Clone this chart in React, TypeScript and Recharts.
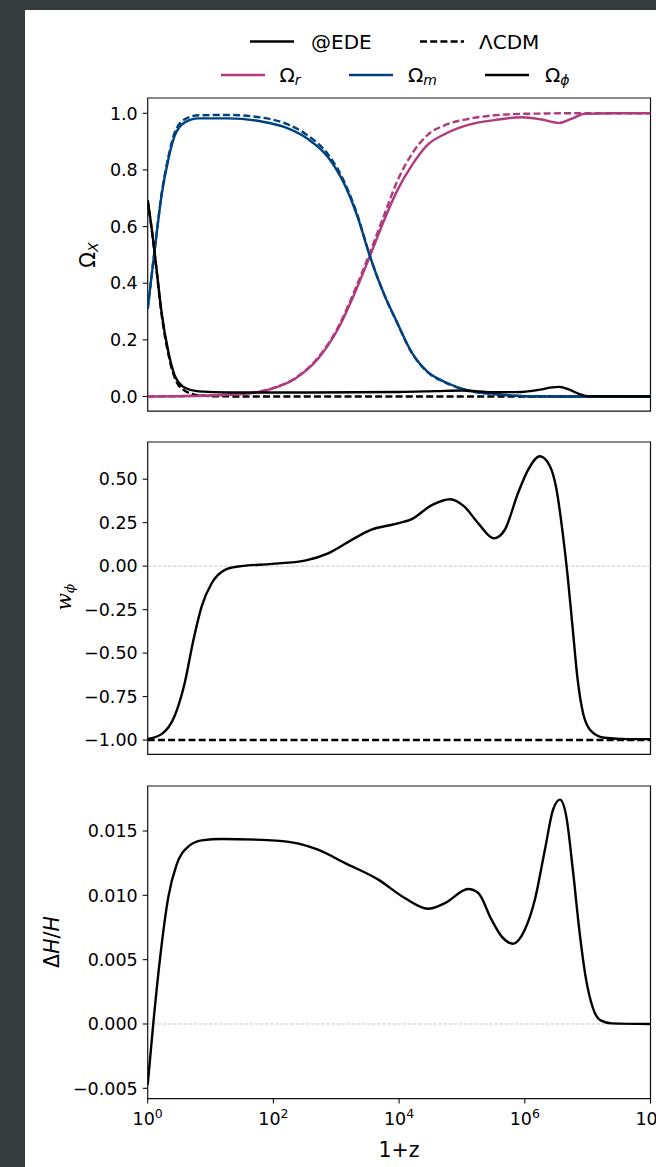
import React from 'react';
import { LineChart, Line, XAxis, YAxis, ReferenceArea, ReferenceLine } from 'recharts';

const FONT = '"DejaVu Sans", sans-serif';
const PINK = '#b03a7e';
const BLUE = '#00427f';
const DASH = '7 3.2';

// x values are log10(1+z)

// top panel: density fractions
const omegaMX = [0, 0.12, 0.22, 0.33, 0.43, 0.59, 0.81, 1.28, 1.81, 2.18, 2.55, 2.87, 3.14, 3.35, 3.53, 3.77, 3.95, 4.2, 4.46, 4.73, 5.1, 5.52, 6.05, 6.6, 8];
const omegaMEde = [0.309, 0.533, 0.709, 0.839, 0.921, 0.968, 0.982, 0.982, 0.971, 0.951, 0.909, 0.845, 0.745, 0.627, 0.498, 0.356, 0.27, 0.156, 0.086, 0.051, 0.021, 0.009, 0.001, 0, 0];
const omegaMLcdm = [0.309, 0.536, 0.714, 0.847, 0.932, 0.979, 0.993, 0.994, 0.985, 0.965, 0.921, 0.855, 0.752, 0.632, 0.5, 0.356, 0.269, 0.155, 0.085, 0.05, 0.02, 0.008, 0.001, 0, 0];

const omegaRX = [0, 0.5, 1.02, 1.55, 1.97, 2.34, 2.71, 3.03, 3.3, 3.56, 3.77, 3.97, 4.2, 4.46, 4.73, 5.1, 5.52, 5.95, 6.27, 6.55, 6.74, 6.95, 7.38, 8];
const omegaREde = [0, 0.001, 0.0035, 0.009, 0.027, 0.062, 0.133, 0.239, 0.368, 0.509, 0.627, 0.727, 0.815, 0.89, 0.927, 0.959, 0.976, 0.986, 0.978, 0.966, 0.98, 0.998, 1.0, 1.0];
const omegaRLcdm = [0, 0.001, 0.004, 0.01, 0.028, 0.064, 0.137, 0.245, 0.378, 0.522, 0.645, 0.76, 0.855, 0.925, 0.958, 0.98, 0.993, 0.998, 0.999, 1.0, 1.0, 1.0, 1.0, 1.0];

const omegaPhiX = [0, 0.064, 0.14, 0.22, 0.33, 0.43, 0.59, 0.81, 1.28, 2.61, 4.0, 4.6, 5.0, 5.52, 5.95, 6.27, 6.4, 6.55, 6.7, 6.85, 7.0, 8];
const omegaPhiEde = [0.692, 0.592, 0.451, 0.298, 0.156, 0.074, 0.031, 0.018, 0.014, 0.014, 0.016, 0.019, 0.021, 0.015, 0.016, 0.025, 0.031, 0.034, 0.025, 0.01, 0.001, 0];

const omegaLambdaX = [0, 0.064, 0.14, 0.22, 0.33, 0.43, 0.59, 0.81, 1.02, 1.5, 8];
const omegaLambdaLcdm = [0.692, 0.59, 0.447, 0.292, 0.148, 0.066, 0.02, 0.004, 0.001, 0, 0];

// middle panel: equation of state
const wPhiX = [0, 0.22, 0.43, 0.59, 0.73, 0.86, 1.02, 1.23, 1.44, 1.97, 2.5, 2.87, 3.24, 3.56, 3.93, 4.2, 4.52, 4.81, 5.04, 5.26, 5.51, 5.68, 5.89, 6.05, 6.24, 6.4, 6.5, 6.6, 6.68, 6.76, 6.84, 6.93, 7.06, 7.27, 7.64, 8];
const wPhiEde = [-0.994, -0.966, -0.86, -0.67, -0.42, -0.23, -0.097, -0.021, -0.002, 0.013, 0.032, 0.074, 0.15, 0.21, 0.242, 0.27, 0.351, 0.385, 0.342, 0.246, 0.16, 0.208, 0.418, 0.552, 0.632, 0.575, 0.45, 0.2, -0.05, -0.35, -0.65, -0.85, -0.95, -0.987, -0.995, -0.995];
const wLambdaX = [0, 8];
const wLambda = [-1, -1];

// bottom panel: relative change of H
const dHX = [0, 0.09, 0.2, 0.33, 0.46, 0.65, 0.86, 1.18, 1.97, 2.4, 2.71, 3.14, 3.67, 4.09, 4.46, 4.73, 5.1, 5.26, 5.47, 5.63, 5.81, 6.0, 6.16, 6.32, 6.45, 6.56, 6.66, 6.77, 6.87, 6.97, 7.08, 7.2, 7.38, 8];
const dHEde = [-0.00472, 0.0001, 0.00526, 0.00992, 0.01238, 0.0138, 0.01427, 0.01438, 0.01427, 0.01402, 0.01355, 0.01251, 0.01122, 0.00979, 0.00896, 0.0094, 0.01049, 0.01018, 0.00811, 0.00681, 0.00624, 0.00733, 0.00966, 0.01355, 0.01666, 0.01744, 0.01614, 0.01174, 0.0072, 0.0036, 0.0013, 0.0003, 0.00005, 0];

const xTicks = [0, 2, 4, 6, 8];
const omegaTicks = [0, 0.2, 0.4, 0.6, 0.8, 1.0];
const wTicks = [-1, -0.75, -0.5, -0.25, 0, 0.25, 0.5];
const dHTicks = [-0.005, 0, 0.005, 0.01, 0.015];

const toPoints = (xs: number[], ys: number[]) => xs.map((x, i) => ({ x, y: ys[i] }));
const minus = (s: string) => s.replace('-', '\u2212');

const PLOT_LEFT = 147.7;
const PLOT_RIGHT = 650.5;
const Y_AXIS_W = 70;
const PAD_TOP = 5;

const XTick = (props: any) => {
  const { x, y, payload } = props;
  return (
    <text x={x} y={y} textAnchor="middle" fontFamily={FONT} fontSize={17.5} fill="#000">
      <tspan dy="0.9em">10</tspan>
      <tspan dy="-0.55em" fontSize={12.5}>{payload.value}</tspan>
    </text>
  );
};

type PanelProps = {
  top: number;
  height: number;
  domain: [number, number];
  ticks: number[];
  fmt: (v: number) => string;
  xLabels?: boolean;
  zeroLine?: boolean;
  children: React.ReactNode;
};

const Panel = ({ top, height, domain, ticks, fmt, xLabels, zeroLine, children }: PanelProps) => {
  const xAxisH = xLabels ? 40 : 10;
  return (
    <div style={{ position: 'absolute', left: 0, top: top - PAD_TOP }}>
      <LineChart
        width={656}
        height={PAD_TOP + height + xAxisH}
        margin={{ top: PAD_TOP, right: 656 - PLOT_RIGHT, bottom: 0, left: PLOT_LEFT - Y_AXIS_W }}
      >
        <XAxis
          type="number"
          dataKey="x"
          domain={[0, 8]}
          ticks={xTicks}
          allowDataOverflow
          height={xAxisH}
          axisLine={false}
          tickLine={{ stroke: '#111', strokeWidth: 1.1 }}
          tickSize={5}
          tickMargin={6}
          tick={xLabels ? <XTick /> : false}
        />
        <YAxis
          type="number"
          dataKey="y"
          domain={domain}
          ticks={ticks}
          allowDataOverflow
          width={Y_AXIS_W}
          axisLine={false}
          tickLine={{ stroke: '#111', strokeWidth: 1.1 }}
          tickSize={5}
          tickMargin={5}
          tickFormatter={fmt}
          tick={{ fill: '#000', fontSize: 17.5, fontFamily: FONT }}
        />
        {zeroLine && <ReferenceLine y={0} stroke="#b8b8b8" strokeWidth={0.8} strokeDasharray="3.5 1.6" />}
        {children}
        <ReferenceArea x1={0} x2={8} y1={domain[0]} y2={domain[1]} fill="none" stroke="#111" strokeWidth={1.2} />
      </LineChart>
    </div>
  );
};

const lineProps = { type: 'monotone' as const, dataKey: 'y', dot: false, activeDot: false, isAnimationActive: false, strokeWidth: 2.4 };

const LegendLine = ({ x, y, color, dashed }: { x: number; y: number; color: string; dashed?: boolean }) => (
  <line x1={x} x2={x + 44} y1={y} y2={y} stroke={color} strokeWidth={2.4} strokeDasharray={dashed ? DASH : undefined} />
);

export default function App() {
  return (
    <div style={{ position: 'absolute', left: 0, top: 0, width: 656, height: 1167, background: '#353c3c', overflow: 'hidden' }}>
      <div style={{ position: 'absolute', left: 25, top: 10, width: 631, height: 1157, background: '#fff' }} />

      <Panel top={97.5} height={313.2} domain={[-0.052, 1.054]} ticks={omegaTicks} fmt={(v) => v.toFixed(1)}>
        <Line {...lineProps} data={toPoints(omegaRX, omegaRLcdm)} stroke={PINK} strokeDasharray={DASH} />
        <Line {...lineProps} data={toPoints(omegaMX, omegaMLcdm)} stroke={BLUE} strokeDasharray={DASH} />
        <Line {...lineProps} data={toPoints(omegaLambdaX, omegaLambdaLcdm)} stroke="#000" strokeDasharray={DASH} />
        <Line {...lineProps} data={toPoints(omegaRX, omegaREde)} stroke={PINK} />
        <Line {...lineProps} data={toPoints(omegaMX, omegaMEde)} stroke={BLUE} />
        <Line {...lineProps} data={toPoints(omegaPhiX, omegaPhiEde)} stroke="#000" />
      </Panel>

      <Panel top={441.7} height={312.3} domain={[-1.082, 0.714]} ticks={wTicks} fmt={(v) => minus(v.toFixed(2))} zeroLine>
        <Line {...lineProps} data={toPoints(wLambdaX, wLambda)} stroke="#000" strokeDasharray={DASH} />
        <Line {...lineProps} data={toPoints(wPhiX, wPhiEde)} stroke="#000" />
      </Panel>

      <Panel top={785.7} height={312.6} domain={[-0.0058, 0.0185]} ticks={dHTicks} fmt={(v) => minus(v.toFixed(3))} xLabels zeroLine>
        <Line {...lineProps} data={toPoints(dHX, dHEde)} stroke="#000" />
      </Panel>

      <svg width={656} height={1167} style={{ position: 'absolute', left: 0, top: 0, pointerEvents: 'none' }}>
        <g fontFamily={FONT} fontSize={20} fill="#000" dominantBaseline="central">
          <LegendLine x={250} y={41.5} color="#000" />
          <text x={311} y={41.5}>@EDE</text>
          <LegendLine x={420} y={41.5} color="#000" dashed />
          <text x={479} y={41.5}>ΛCDM</text>

          <LegendLine x={221} y={75} color={PINK} />
          <text x={279.5} y={75}>Ω<tspan fontSize={14} fontStyle="italic" dy={5}>r</tspan></text>
          <LegendLine x={349} y={75} color={BLUE} />
          <text x={408} y={75}>Ω<tspan fontSize={14} fontStyle="italic" dy={5}>m</tspan></text>
          <LegendLine x={485} y={75} color="#000" />
          <text x={545} y={75}>Ω<tspan fontSize={14} fontStyle="italic" dy={5}>ϕ</tspan></text>
        </g>

        <g fontFamily={FONT} fontSize={20.5} fill="#000" textAnchor="middle" dominantBaseline="central">
          <text x={399} y={1150}>1+z</text>
          <text x={88} y={255} transform="rotate(-90 88 255)">
            Ω<tspan fontSize={14} fontStyle="italic" dy={5}>X</tspan>
          </text>
          <text x={63.5} y={597} transform="rotate(-90 63.5 597)" fontFamily='"DejaVu Serif", serif' fontStyle="italic" fontSize={20}>
            w<tspan fontSize={13.5} dy={5}>ϕ</tspan>
          </text>
          <text x={51.7} y={942} transform="rotate(-90 51.7 942)">
            Δ<tspan fontStyle="italic">H</tspan>/<tspan fontStyle="italic">H</tspan>
          </text>
        </g>
      </svg>
    </div>
  );
}
